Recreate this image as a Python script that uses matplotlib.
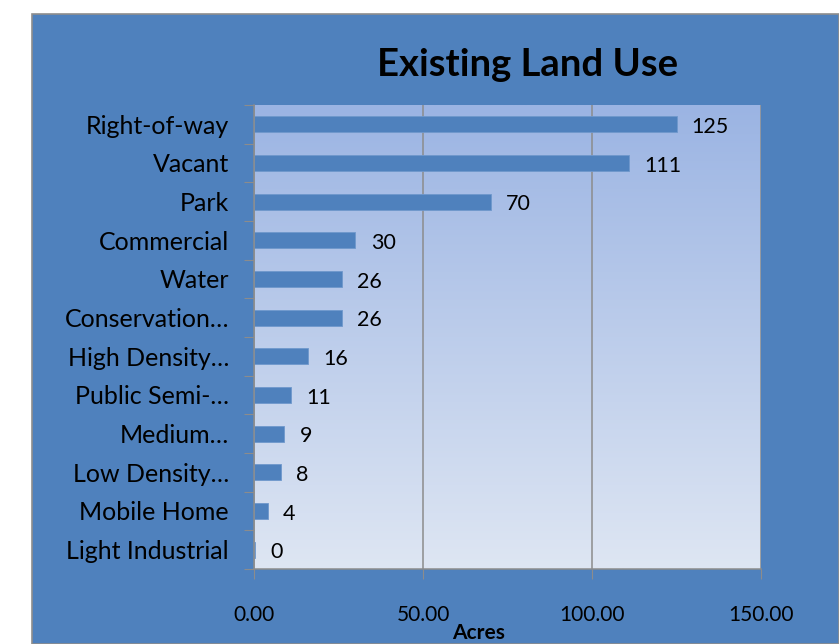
import matplotlib
matplotlib.use("Agg")
import matplotlib.pyplot as plt
import matplotlib.patches as mpatches
import numpy as np

# Данные (сверху вниз, как на графике)
categories = ["Right-of-way", "Vacant", "Park", "Commercial", "Water",
              "Conservation…", "High Density…", "Public Semi-…", "Medium…",
              "Low Density…", "Mobile Home", "Light Industrial"]
acres = [125, 111, 70, 30, 26, 26, 16, 11, 9, 8, 4, 0.4]
x_ticks = [0, 50, 100, 150]

PANEL = "#4F81BD"
GRID = "#8C8C8C"

plt.rcParams["font.family"] = ["Lato", "DejaVu Sans"]

fig = plt.figure(figsize=(8.39, 6.44), dpi=100)
fig.patch.set_facecolor("white")

# синяя подложка всей диаграммы
fig.patches.append(mpatches.Rectangle((32 / 839, 0), 1 - 32 / 839, 1 - 14 / 644,
                                      transform=fig.transFigure, facecolor=PANEL,
                                      edgecolor="#8E8E8E", linewidth=1.2, zorder=-5))

ax = fig.add_axes([254 / 839, 1 - 569 / 644, 507 / 839, 464 / 644])
ax.set_facecolor("none")

n = len(categories)
y = np.arange(n)[::-1]

# градиент в области построения
grad = np.linspace(0, 1, 256).reshape(-1, 1)
top = np.array([0x9B, 0xB4, 0xE3]) / 255
bot = np.array([0xDE, 0xE6, 0xF3]) / 255
img = top + (bot - top) * grad[..., None]
ax.imshow(img.reshape(256, 1, 3), extent=(0, 150, -0.5, n - 0.5),
          aspect="auto", origin="upper", zorder=0)

ax.barh(y, acres, height=0.42, color=PANEL, edgecolor="#6F98CC",
        linewidth=0.6, zorder=3)

for yi, v in zip(y, acres):
    ax.annotate(f"{v:.0f}", (v, yi), xytext=(11, -2), textcoords="offset points",
                va="center", ha="left", fontsize=15.5, color="black")

ax.set_xlim(0, 150)
ax.set_ylim(-0.5, n - 0.5)

ax.set_xticks(x_ticks)
ax.set_xticklabels([f"{t:.2f}" for t in x_ticks], fontsize=15)
ax.tick_params(axis="x", length=7, color=GRID, pad=19)

ax.set_yticks(np.arange(-0.5, n, 1))
ax.set_yticklabels([])
ax.set_yticks(y, minor=True)
ax.set_yticklabels(categories, minor=True, fontsize=18)
ax.tick_params(axis="y", which="major", length=7, color=GRID)
ax.tick_params(axis="y", which="minor", length=0, pad=18)

ax.grid(axis="x", color=GRID, linewidth=1.1, zorder=1)
ax.set_axisbelow(False)
for s in ["top", "right"]:
    ax.spines[s].set_visible(False)
for s in ["left", "bottom"]:
    ax.spines[s].set_color(GRID)
    ax.spines[s].set_linewidth(1.1)
    ax.spines[s].set_zorder(4)

fig.text(528 / 839, 1 - 65 / 644, "Existing Land Use", ha="center", va="center",
         fontsize=27.5, fontweight="bold")
fig.text(479 / 839, 1 - 633 / 644, "Acres", ha="center", va="center",
         fontsize=15, fontweight="bold")

fig.savefig("out.png", dpi=100)
